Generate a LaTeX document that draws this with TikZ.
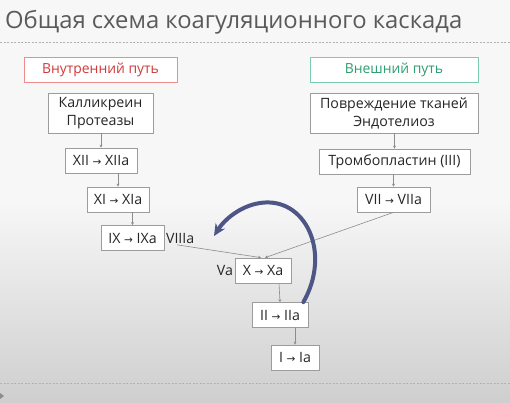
\documentclass[tikz,border=0pt]{standalone}
\usepackage{fontspec}
\setmainfont{Open Sans}
\newfontfamily\arrowfont{DejaVu Sans}
\usetikzlibrary{arrows.meta}
\definecolor{boxgray}{HTML}{9C9C9C}
\definecolor{textgray}{HTML}{262626}
\definecolor{titlegray}{HTML}{5A5A5A}
\definecolor{innerred}{HTML}{D23A3A}
\definecolor{innerredline}{HTML}{EE8C8C}
\definecolor{outergreen}{HTML}{2E9E72}
\definecolor{outergreenline}{HTML}{7CCDAE}
\definecolor{loopblue}{HTML}{4E5687}
\newcommand{\goesto}{ {\arrowfont\fontsize{10.5}{12}\selectfont →} }
\tikzset{
  factor/.style={draw=boxgray, fill=white, line width=0.7pt, minimum height=25pt,
    inner sep=0pt, align=center, text=textgray, font=\fontsize{14.2}{18}\selectfont},
  pathbox/.style={factor, line width=0.9pt, font=\fontsize{13.9}{17}\selectfont},
  flow/.style={draw=boxgray!90!black, line width=0.6pt, -{Stealth[length=3pt,width=3pt]}},
  sep/.style={draw=black!30, line width=0.6pt, dash pattern=on 2pt off 1.5pt}
}
\begin{document}
\begin{tikzpicture}[x=1pt,y=-1pt]
  % background
  \fill[black!3] (0,0) rectangle (510,402);
  \shade[top color=black!3, bottom color=black!19] (0,200) rectangle (510,402);
  \useasboundingbox (0,0) rectangle (510,402);
  \fill[black!45] (0,393) -- (4,396) -- (0,399) -- cycle;

  % title
  \node[anchor=base west, inner sep=0pt, text=titlegray,
    font=\fontsize{23.8}{28}\selectfont] (title) at (5,28) {Общая схема коагуляционного каскада};
  \draw[sep] (0,42) -- (510,42);
  \draw[sep] (0,383) -- (510,383);

  % the two pathways
  \node[pathbox, draw=innerredline, text=innerred, minimum width=153pt] (inner) at (100.5,69.5) {Внутренний путь};
  \node[pathbox, draw=outergreenline, text=outergreen, minimum width=168pt] (outer) at (394,69.5) {Внешний путь};

  % intrinsic
  \node[factor, minimum width=105pt, minimum height=40pt] (kall) at (100.5,113) {Калликреин\\Протеазы};
  \node[factor, minimum width=72pt] (xii) at (101,160.5) {XII\goesto XIIa};
  \node[factor, minimum width=62pt] (xi) at (118,199.5) {XI\goesto XIa};
  \node[factor, minimum width=63pt] (ix) at (132.5,238) {IX\goesto IXa};
  \node[anchor=west, inner sep=1.5pt, text=textgray, font=\fontsize{14.2}{18}\selectfont] (viiia) at (ix.east) {VIIIa};

  % extrinsic
  \node[factor, minimum width=168pt, minimum height=40pt] (damage) at (394,113) {Повреждение тканей\\Эндотелиоз};
  \node[factor, minimum width=151pt] (tromb) at (394.5,161.5) {Тромбопластин (III)};
  \node[factor, minimum width=73pt] (vii) at (393.5,199.5) {VII\goesto VIIa};

  % common
  \node[factor, minimum width=56pt] (x) at (263,270.5) {X\goesto Xa};
  \node[anchor=east, inner sep=1.5pt, text=textgray, font=\fontsize{14.2}{18}\selectfont] (va) at (x.west) {Va};
  \node[factor, minimum width=56pt] (ii) at (280,315) {II\goesto IIa};
  \node[factor, minimum width=48pt] (i) at (295,357.5) {I\goesto Ia};

  \draw[flow] (kall.south -| xii.north) -- (xii.north);
  \draw[flow] (xii.south -| xi.north) -- (xi.north);
  \draw[flow] (xi.south -| ix.north) -- (ix.north);
  \draw[flow] (damage.south -| tromb.north) -- (tromb.north);
  \draw[flow] (tromb.south -| vii.north) -- (vii.north);
  \draw[flow] ([xshift=-3pt]viiia.south) -- ([xshift=-2pt]x.north);
  \draw[flow] (vii.south) -- ([xshift=2pt]x.north);
  \draw[flow] ([xshift=-1pt]x.south -| ii.north) -- (ii.north);
  \draw[flow] (ii.south -| i.north) -- (i.north);

  % feedback of thrombin
  \coordinate (loopstart) at ([xshift=-5pt]ii.north east);
  \draw[loopblue, line width=4pt, line cap=round, -{Stealth[length=12pt,width=11pt,inset=4pt]}]
    (loopstart) .. controls (332,252) and (305,196) .. (260,203)
    .. controls (240,206) and (224,220) .. (214,236);
\end{tikzpicture}
\end{document}
